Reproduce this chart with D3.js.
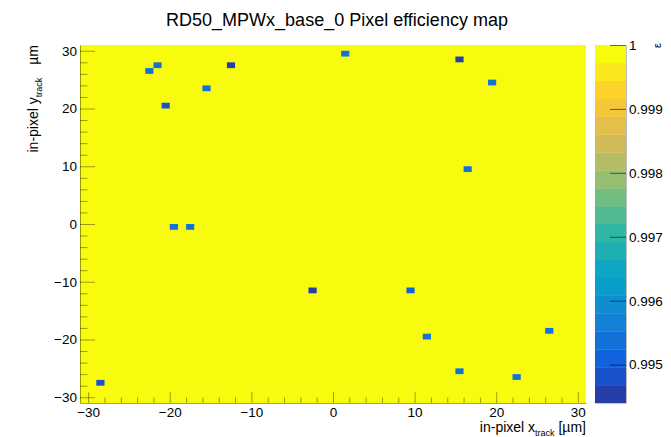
<!DOCTYPE html>
<html>
<head>
<meta charset="utf-8">
<script src="https://cdn.jsdelivr.net/npm/d3@7"></script>
<style>
    body { margin: 0; background: #fff; }
    text { font-family: "Liberation Sans", Arial, sans-serif; fill: #000; }
</style>
</head>
<body>
<svg id="chart"></svg>
<script>
// Canvas size
var w = 671;
var h = 437;

// Plot frame (ROOT pad margins)
var margin = { top: 45, right: 85, bottom: 34, left: 80 };
var width = w - margin.left - margin.right;
var height = h - margin.top - margin.bottom;

// Histogram axis ranges (um) and colour range
var xRange = [-31, 31];
var yRange = [-31, 31];
var zRange = [0.9944, 1.0];
var nContours = 20;

// Bins that are not fully efficient (bin centres, um) and their efficiency
var binX = [-28.5, -22.5, -21.5, -20.5, -15.5, -12.5, -19.5, -17.5, -2.5,
            1.5, 9.5, 11.5, 15.5, 15.5, 16.5, 19.5, 22.5, 26.5];
var binY = [-27.5, 26.5, 27.5, 20.5, 23.5, 27.5, -0.5, -0.5, -11.5,
            29.5, -11.5, -19.5, 28.5, -25.5, 9.5, 24.5, -26.5, -18.5];
var binEff = [0.9949, 0.9954, 0.9954, 0.9949, 0.9954, 0.9945, 0.9954, 0.9954, 0.9945,
              0.9954, 0.9951, 0.9954, 0.9945, 0.9954, 0.9954, 0.9954, 0.9954, 0.9954];
// All other bins
var fullEff = 1.0;

// Tick labels
var xTicks = [-30, -20, -10, 0, 10, 20, 30];
var yTicks = [-30, -20, -10, 0, 10, 20, 30];
var zTicks = [0.995, 0.996, 0.997, 0.998, 0.999, 1];

// ROOT kBird palette
var birdStops = [0.0, 0.125, 0.25, 0.375, 0.5, 0.625, 0.75, 0.875, 1.0];
var birdRed   = [0.2082, 0.0592, 0.0780, 0.0232, 0.1802, 0.5301, 0.8186, 0.9956, 0.9764];
var birdGreen = [0.1664, 0.3599, 0.5041, 0.6419, 0.7178, 0.7492, 0.7328, 0.7862, 0.9832];
var birdBlue  = [0.5293, 0.8684, 0.8385, 0.7914, 0.6425, 0.4662, 0.3499, 0.1968, 0.0539];

var palette = d3.scaleLinear()
    .domain(birdStops)
    .range(birdStops.map(function (s, i) {
        return d3.rgb(birdRed[i] * 255, birdGreen[i] * 255, birdBlue[i] * 255);
    }))
    .interpolate(d3.interpolateRgb);

// Contour level -> colour, like THistPainter with 255 palette colours
function levelColor(i) {
    var idx = Math.floor((i + 0.99) * 255 / nContours);
    return palette(Math.min(idx, 254) / 254);
}
function zColor(z) {
    var i = Math.floor((z - zRange[0]) / (zRange[1] - zRange[0]) * nContours);
    i = Math.max(0, Math.min(nContours - 1, i));
    return levelColor(i);
}

// Scales
var xScale = d3.scaleLinear().domain(xRange).range([0, width]);
var yScale = d3.scaleLinear().domain(yRange).range([height, 0]);
var zScale = d3.scaleLinear().domain(zRange).range([height, 0]);

var svg = d3.select("#chart")
    .attr("width", w)
    .attr("height", h);

var g = svg.append("g")
    .attr("transform", "translate(" + margin.left + "," + margin.top + ")");

// Fully efficient bins fill the frame
g.append("rect")
    .attr("width", width)
    .attr("height", height)
    .attr("fill", zColor(fullEff));

// Inefficient bins
var bins = binX.map(function (x, i) { return { x: x, y: binY[i], eff: binEff[i] }; });
g.selectAll(".cell")
    .data(bins)
    .enter().append("rect")
    .attr("class", "cell")
    .attr("x", function (d) { return xScale(d.x - 0.5); })
    .attr("y", function (d) { return yScale(d.y + 0.5); })
    .attr("width", function (d) { return xScale(d.x + 0.5) - xScale(d.x - 0.5); })
    .attr("height", function (d) { return yScale(d.y - 0.5) - yScale(d.y + 0.5); })
    .attr("fill", function (d) { return zColor(d.eff); });

// Axes: ticks point into the frame
function styleAxis(sel) {
    sel.selectAll("line, path").attr("stroke", "#000").attr("stroke-opacity", 0.38);
    sel.selectAll("text").attr("font-size", "13.5px").attr("font-family", null);
}

var minorX = d3.range(xTicks[0], xTicks[xTicks.length - 1] + 1, 2).filter(function (v) { return v % 10 !== 0; });
var minorY = d3.range(yTicks[0], yTicks[yTicks.length - 1] + 1, 2).filter(function (v) { return v % 10 !== 0; });

var xAxis = g.append("g")
    .attr("transform", "translate(0," + height + ")")
    .call(d3.axisBottom(xScale).tickValues(xTicks).tickSizeInner(-10.7).tickSizeOuter(0).tickPadding(4)
        .tickFormat(d3.format("d")));
xAxis.call(styleAxis);
g.append("g")
    .attr("transform", "translate(0," + height + ")")
    .call(d3.axisBottom(xScale).tickValues(minorX).tickSizeInner(-5.4).tickSizeOuter(0).tickFormat(""))
    .call(styleAxis)
    .select(".domain").remove();

var yAxis = g.append("g")
    .call(d3.axisLeft(yScale).tickValues(yTicks).tickSizeInner(-15).tickSizeOuter(0).tickPadding(3)
        .tickFormat(d3.format("d")));
yAxis.call(styleAxis);
g.append("g")
    .call(d3.axisLeft(yScale).tickValues(minorY).tickSizeInner(-7.5).tickSizeOuter(0).tickFormat(""))
    .call(styleAxis)
    .select(".domain").remove();

// Colour bar
var barX = 595;
var barW = 31;
var bar = svg.append("g")
    .attr("transform", "translate(" + barX + "," + margin.top + ")");
var step = (zRange[1] - zRange[0]) / nContours;
bar.selectAll(".band")
    .data(d3.range(nContours))
    .enter().append("rect")
    .attr("class", "band")
    .attr("x", 0)
    .attr("width", barW)
    .attr("y", function (i) { return zScale(zRange[0] + (i + 1) * step); })
    .attr("height", function (i) { return zScale(zRange[0] + i * step) - zScale(zRange[0] + (i + 1) * step) + 0.3; })
    .attr("fill", function (i) { return levelColor(i); });

bar.append("g")
    .attr("transform", "translate(" + barW + ",0)")
    .call(d3.axisRight(zScale).tickValues(zTicks).tickSizeInner(-16).tickSizeOuter(0).tickPadding(3)
        .tickFormat(function (d) { return d === 1 ? "1" : d3.format(".3f")(d); }))
    .call(function (sel) {
        sel.selectAll("line").attr("stroke", "#000").attr("stroke-opacity", 0.55);
        sel.select(".domain").attr("stroke", "#000").attr("stroke-opacity", 0.25);
        sel.selectAll("text").attr("font-size", "13.5px").attr("font-family", null);
    });

// z title
svg.append("text")
    .attr("transform", "translate(661,43) rotate(-90)")
    .attr("text-anchor", "end")
    .attr("font-size", "11px")
    .text("\u03b5");

// Title
svg.append("text")
    .attr("x", 337)
    .attr("y", 26)
    .attr("text-anchor", "middle")
    .attr("font-size", "18px")
    .text("RD50_MPWx_base_0 Pixel efficiency map");

// x-axis title
var xt = svg.append("text")
    .attr("x", margin.left + width)
    .attr("y", 432)
    .attr("text-anchor", "end")
    .attr("font-size", "14px");
xt.append("tspan").text("in-pixel x");
xt.append("tspan").attr("dy", 4).attr("font-size", "9px").text("track");
xt.append("tspan").attr("dy", -4).text(" [\u00b5m]");

// y-axis title
var yt = svg.append("text")
    .attr("transform", "translate(38," + margin.top + ") rotate(-90)")
    .attr("text-anchor", "end")
    .attr("font-size", "14px");
yt.append("tspan").text("in-pixel y");
yt.append("tspan").attr("dy", 4).attr("font-size", "9px").text("track");
yt.append("tspan").attr("dy", -4).attr("dx", 13).text("\u00b5m");
</script>
</body>
</html>
